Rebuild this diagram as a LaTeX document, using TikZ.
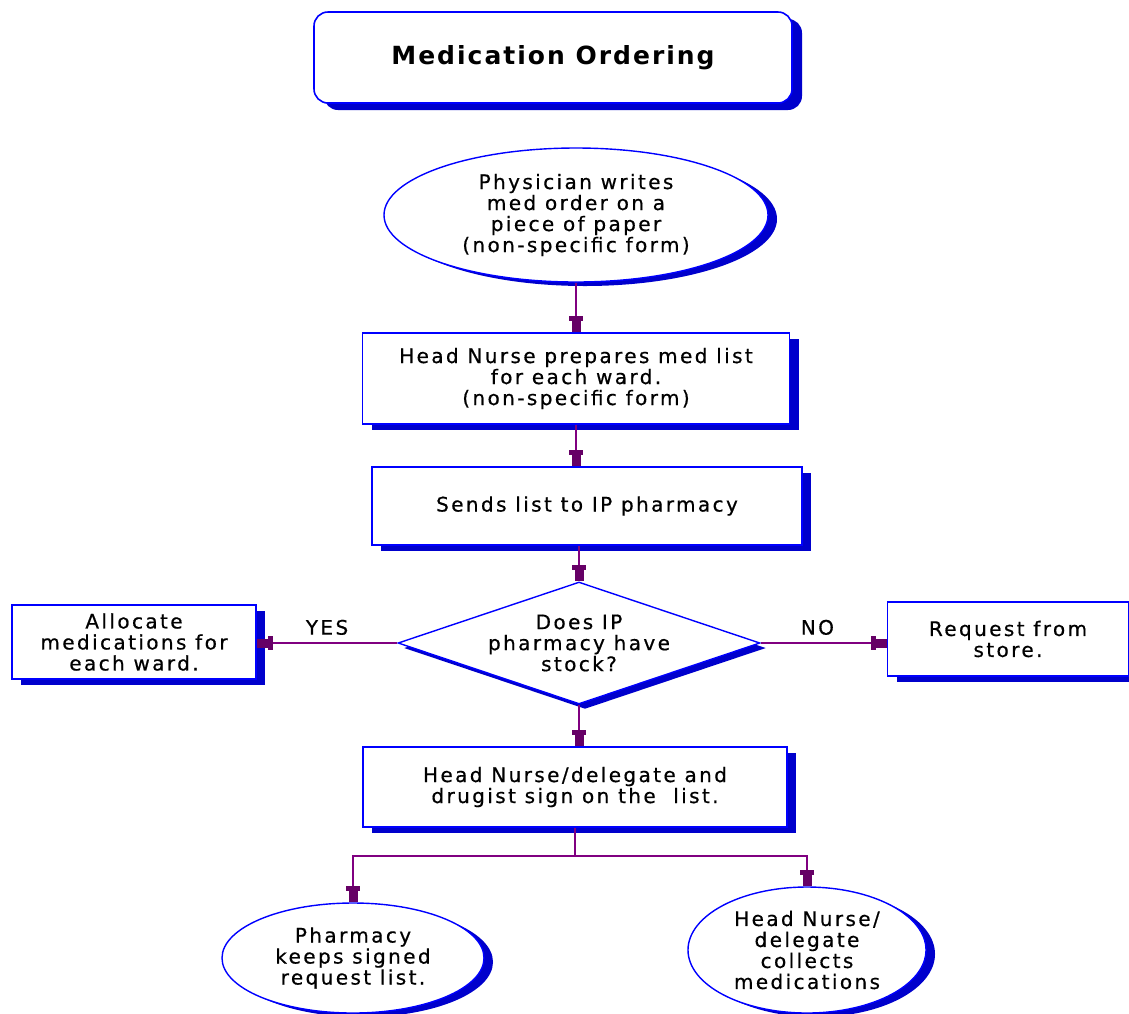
\documentclass[tikz,border=0pt]{standalone}
\usepackage{fontspec}
\newfontfamily\bodyfont[LetterSpace=12,FakeBold=0.6]{DejaVu Sans}
\newfontfamily\ttlfont[LetterSpace=8]{DejaVu Sans}
\usetikzlibrary{shapes.geometric,shadows,arrows.meta,calc}
\definecolor{bblue}{HTML}{0000FF}
\definecolor{sblue}{HTML}{0000CC}
\definecolor{conncol}{HTML}{800080}
\definecolor{tipcol}{HTML}{660066}
\begin{document}
\begin{tikzpicture}[x=1pt,y=-1pt,
  txt/.style={font=\bodyfont\fontsize{20pt}{21pt}\selectfont, align=center, text=black},
  boxnode/.style={draw=bblue, line width=1.6pt, fill=white, inner sep=0pt, txt,
    general shadow={fill=sblue, draw=none, shadow xshift=9pt, shadow yshift=-6pt}},
  ellnode/.style={ellipse, draw=bblue, line width=1.4pt, fill=white, inner sep=0pt, txt,
    general shadow={fill=sblue, draw=none, shadow xshift=9pt, shadow yshift=-4pt}},
  dianode/.style={diamond, draw=bblue, line width=1.4pt, fill=white, inner sep=0pt,
    general shadow={fill=sblue, draw=none, shadow xshift=6pt, shadow yshift=-5pt}},
  conn/.style={draw=conncol, line width=1.5pt},
  arr/.style={conn, -{Rectangle[length=5pt,width=14pt,sep=0pt,color=tipcol]Rectangle[length=11pt,width=9pt,color=tipcol]}},
  lbl/.style={txt}
]
\useasboundingbox (0,0) rectangle (1129,1013);
\fill[white] (0,0) rectangle (1129,1013);

% title
\node[draw=bblue, line width=1.6pt, fill=white, rounded corners=14pt,
      minimum width=478pt, minimum height=91pt, inner sep=0pt,
      general shadow={fill=sblue, draw=none, shadow xshift=10pt, shadow yshift=-7pt},
      font=\ttlfont\bfseries\fontsize{25pt}{28pt}\selectfont] (title) at (553,57.5) {Medication Ordering};

% process nodes
\node[ellnode, minimum width=384pt, minimum height=134pt] (phys) at (576,215)
  {Physician writes\\med order on a\\piece of paper\\(non-specific form)};
\node[boxnode, minimum width=427pt, minimum height=91pt] (prep) at (576,378.5)
  {Head Nurse prepares med list\\for each ward.\\(non-specific form)};
\node[boxnode, minimum width=430pt, minimum height=78pt] (send) at (587,506)
  {Sends list to IP pharmacy};
\node[dianode, minimum width=362pt, minimum height=122pt] (dec) at (579,643) {};
\node[txt] (dectxt) at (dec.center) {Does IP\\pharmacy have\\stock?};
\node[boxnode, minimum width=244pt, minimum height=74pt] (alloc) at (134,642)
  {Allocate\\medications for\\each ward.};
\node[boxnode, minimum width=241pt, minimum height=74pt] (req) at (1008,639)
  {Request from\\store.};
\node[boxnode, minimum width=424pt, minimum height=80pt] (sign) at (575,787)
  {Head Nurse/delegate and\\drugist sign on the\ \ list.};
\node[ellnode, minimum width=262pt, minimum height=110pt] (keep) at (353,958)
  {Pharmacy\\keeps signed\\request list.};
\node[ellnode, minimum width=238pt, minimum height=126pt] (coll) at (807,950)
  {Head Nurse/\\delegate\\collects\\medications};

% connectors
\draw[arr] (phys.south) -- (phys.south |- prep.north);
\draw[arr] (prep.south) -- (prep.south |- send.north);
\draw[arr] (dec.north |- send.south) -- (dec.north);
\draw[arr] (dec.west) -- (dec.west -| alloc.east) node[pos=0.5, above=4pt, lbl] (yes) {YES};
\draw[arr] (dec.east) -- (dec.east -| req.west) node[pos=0.45, above=4pt, lbl] (no) {NO};
\draw[arr] (dec.south) -- (dec.south |- sign.north);
\coordinate (br) at ($(sign.south)+(0,28)$);
\draw[conn] (sign.south) -- (br);
\draw[arr] (br) -| (keep.north);
\draw[arr] (br) -| (coll.north);
\end{tikzpicture}
\end{document}
